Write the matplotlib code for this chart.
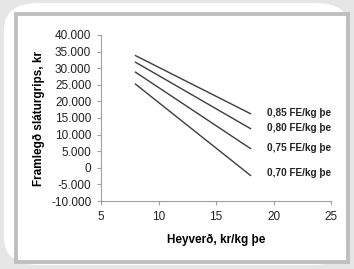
import matplotlib.pyplot as plt
from matplotlib.patches import FancyBboxPatch, Rectangle
from matplotlib.ticker import FuncFormatter

plt.rcParams['font.family'] = ['Liberation Sans', 'DejaVu Sans']

# hay price, kr/kg DM
heyverd = [8, 18]
# margin per slaughter animal, kr
fe_085 = [33800, 16300]
fe_080 = [31800, 11800]
fe_075 = [28800, 5800]
fe_070 = [25200, -2300]
series = [fe_085, fe_080, fe_075, fe_070]
labels = ["0,85 FE/kg þe", "0,80 FE/kg þe", "0,75 FE/kg þe", "0,70 FE/kg þe"]
label_y = [16500, 12000, 6000, -1600]

W, H = 354, 269
fig = plt.figure(figsize=(W / 100, H / 100), dpi=100)
fig.patch.set_facecolor('#e6e6e6')

# decorative frame
outer = FancyBboxPatch((4 / W, 4 / H), 346 / W, 262 / H,
                       boxstyle="round,pad=0,rounding_size=0.1",
                       transform=fig.transFigure, facecolor='white',
                       edgecolor='none', zorder=0)
fig.patches.append(outer)
inner = Rectangle((16 / W, 7 / H), 332 / W, 248 / H, transform=fig.transFigure,
                  facecolor='white', edgecolor='#bfbfbf', linewidth=2.8, zorder=1)
fig.patches.append(inner)

ax = fig.add_axes([101 / W, 1 - 201 / H, 230 / W, 166 / H])
ax.set_facecolor('none')
ax.set_zorder(5)

for vals in series:
    ax.plot(heyverd, vals, color='#3c3c3c', lw=1.0)

for lab, y in zip(labels, label_y):
    ax.text(19.4, y, lab, fontsize=7.2, fontweight='bold', color='#222222',
            va='center', ha='left', clip_on=False)

ax.set_xlim(5, 25)
ax.set_ylim(-10000, 40000)
ax.set_xticks([5, 10, 15, 20, 25])
ax.set_yticks(range(-10000, 40001, 5000))
ax.yaxis.set_major_formatter(FuncFormatter(lambda v, p: f"{int(v):,}".replace(",", ".")))

for s in ['top', 'right']:
    ax.spines[s].set_visible(False)
for s in ['left', 'bottom']:
    ax.spines[s].set_color('#a0a0a0')
    ax.spines[s].set_linewidth(0.8)
ax.tick_params(direction='out', length=3, width=0.8, color='#a0a0a0',
               labelsize=8.5, labelcolor='#222222', pad=4)

ax.set_xlabel("Heyverð, kr/kg þe", fontsize=8.5, fontweight='bold', labelpad=8)
ax.set_ylabel("Framlegð sláturgrips, kr", fontsize=8.5, fontweight='bold')
ax.yaxis.set_label_coords(-0.245, 0.5)

fig.savefig('out.png', dpi=100, facecolor=fig.get_facecolor())
